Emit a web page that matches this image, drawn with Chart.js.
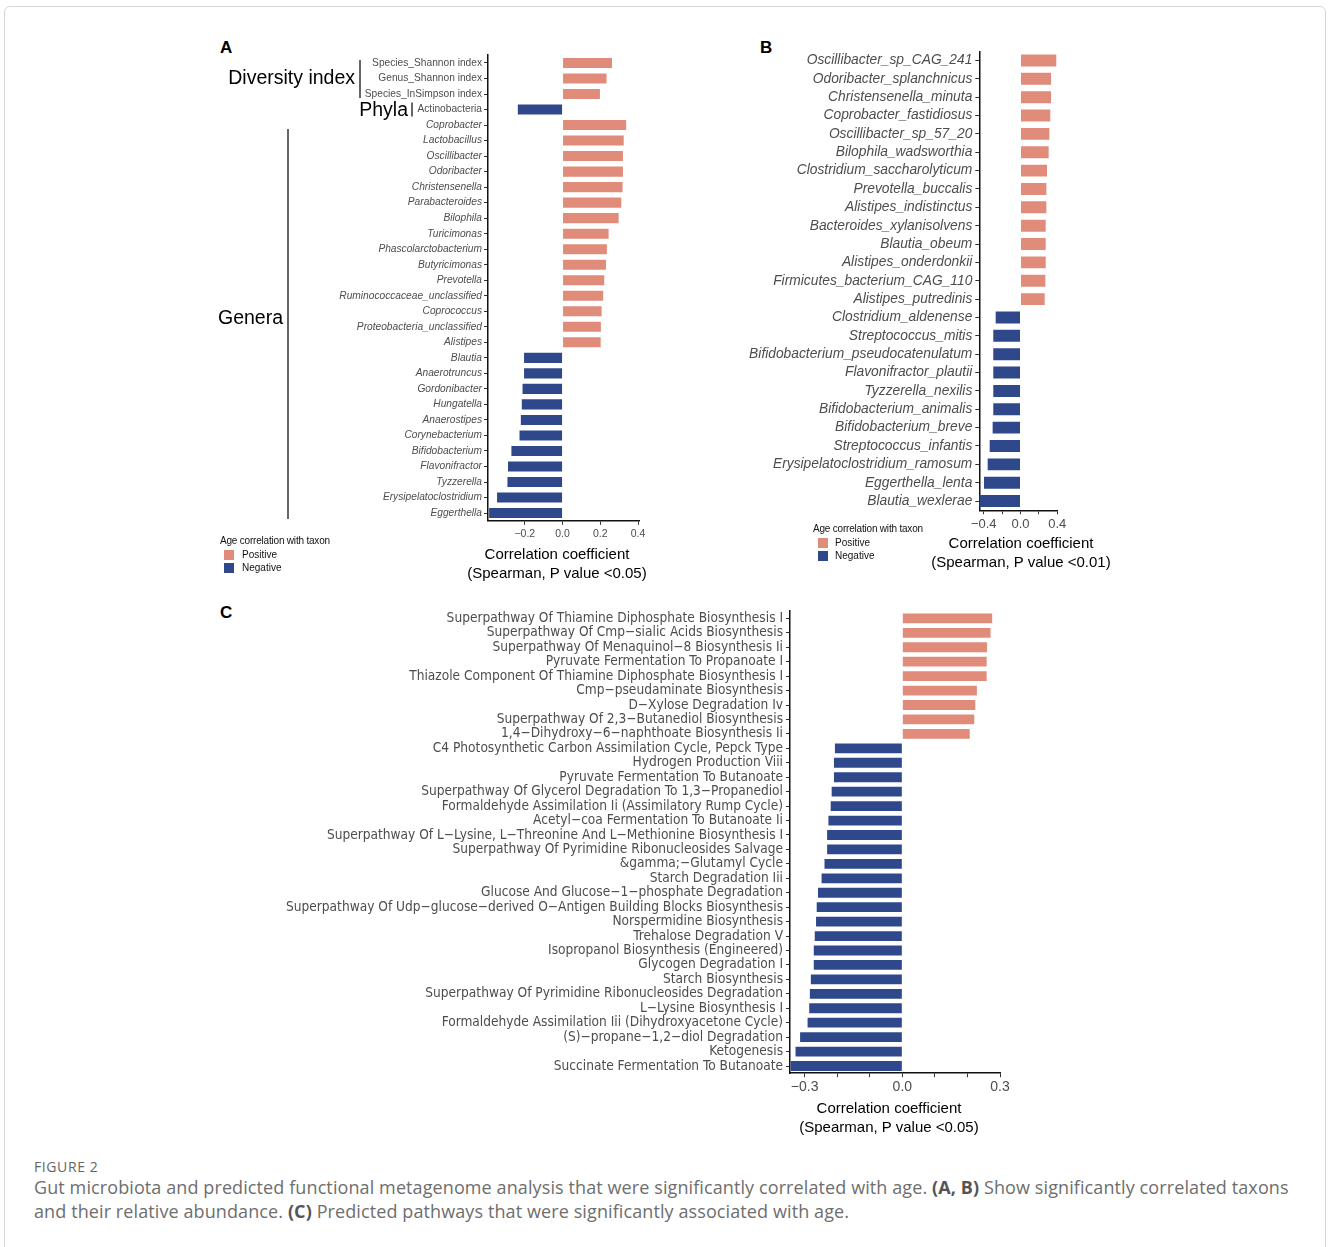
<!DOCTYPE html>
<html>
<head>
<meta charset="utf-8">
<title>Figure 2</title>
<script src="https://cdn.jsdelivr.net/npm/chart.js@4.4.1/dist/chart.umd.min.js"></script>
<style>
  body { margin: 0; background: #fff; width: 1328px; height: 1247px; position: relative; overflow: hidden;
         font-family: "Liberation Sans", Arial, sans-serif; }
  .frame { position: absolute; left: 4px; top: 6px; width: 1320px; height: 1270px; border: 1px solid #d6d6d6; border-radius: 6px; }
  canvas { position: absolute; }
  .letter { position: absolute; font-weight: bold; font-size: 17px; line-height: 18px; color: #000; }
  .lg { position: absolute; font-size: 10px; line-height: 12px; color: #111; white-space: nowrap; }
  .lg.head { letter-spacing: -0.2px; }
  .sw { position: absolute; width: 10px; height: 10px; }
  .xtitle { position: absolute; width: 260px; margin-left: -130px; text-align: center; font-size: 15px; line-height: 19px; color: #000; white-space: nowrap; }
  .cap-title { position: absolute; left: 34px; top: 1157px; font-family: "Open Sans", sans-serif; font-size: 14px; color: #666; letter-spacing: 0.6px; }
  .cap { position: absolute; left: 34px; top: 1175px; width: 1290px; font-family: "Open Sans", sans-serif; font-size: 18px; line-height: 24px; letter-spacing: 0.1px; color: #6e6e6e; white-space: nowrap; }
  .cap b { color: #555; }
</style>
</head>
<body>
<div class="frame"></div>

<div class="letter" style="left:220px; top:39px">A</div>
<div class="letter" style="left:760px; top:39px">B</div>
<div class="letter" style="left:220px; top:604px">C</div>

<canvas id="chartA" width="450" height="545" style="left:210px; top:40px"></canvas>
<canvas id="chartB" width="390" height="540" style="left:740px; top:40px"></canvas>
<canvas id="chartC" width="760" height="540" style="left:280px; top:600px"></canvas>

<!-- axis titles -->
<div class="xtitle" style="left:557px; top:544px">Correlation coefficient<br>(Spearman, P value &lt;0.05)</div>
<div class="xtitle" style="left:1021px; top:533px">Correlation coefficient<br>(Spearman, P value &lt;0.01)</div>
<div class="xtitle" style="left:889px; top:1098px">Correlation coefficient<br>(Spearman, P value &lt;0.05)</div>

<!-- legends -->
<div class="lg head" style="left:220px; top:535px">Age correlation with taxon</div>
<div class="sw" style="left:224px; top:550px; background:#E18B7A"></div>
<div class="lg" style="left:242px; top:549px">Positive</div>
<div class="sw" style="left:224px; top:563px; background:#2F488C"></div>
<div class="lg" style="left:242px; top:562px">Negative</div>

<div class="lg head" style="left:813px; top:523px">Age correlation with taxon</div>
<div class="sw" style="left:818px; top:538px; background:#E18B7A"></div>
<div class="lg" style="left:835px; top:537px">Positive</div>
<div class="sw" style="left:818px; top:551px; background:#2F488C"></div>
<div class="lg" style="left:835px; top:550px">Negative</div>

<div class="cap-title">FIGURE 2</div>
<div class="cap">Gut microbiota and predicted functional metagenome analysis that were significantly correlated with age. <b>(A, B)</b> Show significantly correlated taxons<br>and their relative abundance. <b>(C)</b> Predicted pathways that were significantly associated with age.</div>

<script>
// Panel A: diversity indices, phyla and genera vs age
const taxaA = [
  'Species_Shannon index', 'Genus_Shannon index', 'Species_InSimpson index', 'Actinobacteria',
  'Coprobacter', 'Lactobacillus', 'Oscillibacter', 'Odoribacter', 'Christensenella',
  'Parabacteroides', 'Bilophila', 'Turicimonas', 'Phascolarctobacterium', 'Butyricimonas',
  'Prevotella', 'Ruminococcaceae_unclassified', 'Coprococcus', 'Proteobacteria_unclassified',
  'Alistipes', 'Blautia', 'Anaerotruncus', 'Gordonibacter', 'Hungatella', 'Anaerostipes',
  'Corynebacterium', 'Bifidobacterium', 'Flavonifractor', 'Tyzzerella',
  'Erysipelatoclostridium', 'Eggerthella'
];
const rhoA = [
  0.262, 0.233, 0.198, -0.237,
  0.337, 0.324, 0.320, 0.320, 0.318,
  0.311, 0.297, 0.244, 0.235, 0.230,
  0.221, 0.215, 0.207, 0.203,
  0.202, -0.204, -0.204, -0.212, -0.216, -0.221,
  -0.228, -0.271, -0.289, -0.292,
  -0.347, -0.389
];
const groupsA = [
  { name: 'Diversity index', first: 0, last: 2 },
  { name: 'Phyla', first: 3, last: 3 },
  { name: 'Genera', first: 4, last: 29 }
];
const ticksA = [-0.2, 0, 0.2, 0.4];
const tickLabelsA = [-0.2, 0, 0.2, 0.4];

// Panel B: species vs age
const speciesB = [
  'Oscillibacter_sp_CAG_241', 'Odoribacter_splanchnicus', 'Christensenella_minuta',
  'Coprobacter_fastidiosus', 'Oscillibacter_sp_57_20', 'Bilophila_wadsworthia',
  'Clostridium_saccharolyticum', 'Prevotella_buccalis', 'Alistipes_indistinctus',
  'Bacteroides_xylanisolvens', 'Blautia_obeum', 'Alistipes_onderdonkii',
  'Firmicutes_bacterium_CAG_110', 'Alistipes_putredinis', 'Clostridium_aldenense',
  'Streptococcus_mitis', 'Bifidobacterium_pseudocatenulatum', 'Flavonifractor_plautii',
  'Tyzzerella_nexilis', 'Bifidobacterium_animalis', 'Bifidobacterium_breve',
  'Streptococcus_infantis', 'Erysipelatoclostridium_ramosum', 'Eggerthella_lenta',
  'Blautia_wexlerae'
];
const rhoB = [
  0.389, 0.332, 0.332,
  0.324, 0.314, 0.306,
  0.288, 0.281, 0.281,
  0.274, 0.274, 0.274,
  0.270, 0.263, -0.270,
  -0.296, -0.296, -0.296,
  -0.296, -0.296, -0.303,
  -0.335, -0.357, -0.397,
  -0.448
];
const ticksB = [-0.4, -0.2, 0, 0.2, 0.4];
const tickLabelsB = [-0.4, 0, 0.4];

// Panel C: predicted pathways vs age
const pathwaysC = [
  'Superpathway Of Thiamine Diphosphate Biosynthesis I',
  'Superpathway Of Cmp−sialic Acids Biosynthesis',
  'Superpathway Of Menaquinol−8 Biosynthesis Ii',
  'Pyruvate Fermentation To Propanoate I',
  'Thiazole Component Of Thiamine Diphosphate Biosynthesis I',
  'Cmp−pseudaminate Biosynthesis',
  'D−Xylose Degradation Iv',
  'Superpathway Of 2,3−Butanediol Biosynthesis',
  '1,4−Dihydroxy−6−naphthoate Biosynthesis Ii',
  'C4 Photosynthetic Carbon Assimilation Cycle, Pepck Type',
  'Hydrogen Production Viii',
  'Pyruvate Fermentation To Butanoate',
  'Superpathway Of Glycerol Degradation To 1,3−Propanediol',
  'Formaldehyde Assimilation Ii (Assimilatory Rump Cycle)',
  'Acetyl−coa Fermentation To Butanoate Ii',
  'Superpathway Of L−Lysine, L−Threonine And L−Methionine Biosynthesis I',
  'Superpathway Of Pyrimidine Ribonucleosides Salvage',
  '&gamma;−Glutamyl Cycle',
  'Starch Degradation Iii',
  'Glucose And Glucose−1−phosphate Degradation',
  'Superpathway Of Udp−glucose−derived O−Antigen Building Blocks Biosynthesis',
  'Norspermidine Biosynthesis',
  'Trehalose Degradation V',
  'Isopropanol Biosynthesis (Engineered)',
  'Glycogen Degradation I',
  'Starch Biosynthesis',
  'Superpathway Of Pyrimidine Ribonucleosides Degradation',
  'L−Lysine Biosynthesis I',
  'Formaldehyde Assimilation Iii (Dihydroxyacetone Cycle)',
  '(S)−propane−1,2−diol Degradation',
  'Ketogenesis',
  'Succinate Fermentation To Butanoate'
];
const rhoC = [
  0.276, 0.271, 0.260, 0.259, 0.259, 0.229, 0.224, 0.221, 0.207,
  -0.207, -0.210, -0.210, -0.217, -0.220, -0.227, -0.231, -0.231,
  -0.239, -0.248, -0.259, -0.263, -0.265, -0.269, -0.272, -0.272,
  -0.281, -0.284, -0.286, -0.291, -0.314, -0.328, -0.343
];
const ticksC = [-0.3, -0.2, -0.1, 0, 0.1, 0.2, 0.3];
const tickLabelsC = [-0.3, 0, 0.3];

const POS = '#E18B7A';
const NEG = '#2F488C';
const TEXT = '#4d4d4d';

Chart.defaults.font.family = '"Liberation Sans", Arial, sans-serif';

function fmt(v) {
  const s = Math.abs(v).toFixed(1);
  return v < 0 ? '\u2212' + s : s;
}

// group brackets to the left of panel A's labels
const groupBrackets = {
  id: 'groupBrackets',
  afterDraw(chart) {
    const ctx = chart.ctx;
    const y = chart.scales.y;
    const spots = {
      'Diversity index': { tx: 145, lx: 150, up: 3, down: 4, dy: 0 },
      'Phyla': { tx: 198, lx: 202, up: 7, down: 7, dy: 1 },
      'Genera': { tx: 73, lx: 78, up: -4, down: 6, dy: -5 }
    };
    ctx.save();
    groupsA.forEach(g => {
      const p = spots[g.name];
      const y0 = y.getPixelForTick(g.first) - p.up;
      const y1 = y.getPixelForTick(g.last) + p.down;
      ctx.strokeStyle = '#333';
      ctx.lineWidth = 1.5;
      ctx.beginPath();
      ctx.moveTo(p.lx, y0);
      ctx.lineTo(p.lx, y1);
      ctx.stroke();
      ctx.fillStyle = '#000';
      ctx.font = '19.5px "Liberation Sans", Arial, sans-serif';
      ctx.textAlign = 'right';
      ctx.textBaseline = 'middle';
      ctx.fillText(g.name, p.tx, (y0 + y1) / 2 + p.dy);
    });
    ctx.restore();
  }
};

function panel(id, labels, values, o) {
  return new Chart(document.getElementById(id), {
    type: 'bar',
    data: {
      labels: labels,
      datasets: [{
        data: values,
        backgroundColor: values.map(v => v >= 0 ? POS : NEG),
        barPercentage: o.bar,
        categoryPercentage: 1
      }]
    },
    options: {
      indexAxis: 'y',
      responsive: false,
      animation: false,
      layout: { padding: { top: o.top, right: o.right, left: 0, bottom: 0 } },
      plugins: { legend: { display: false }, tooltip: { enabled: false } },
      scales: {
        y: {
          offset: true,
          grid: { offset: false, drawOnChartArea: false, drawTicks: true, tickLength: 4, tickColor: '#333' },
          border: { color: '#111', width: 1.5 },
          ticks: { autoSkip: false, padding: o.yPad, color: TEXT, font: o.yFont },
          afterFit: s => { s.width = o.yWidth; }
        },
        x: {
          min: o.min,
          max: o.max,
          grid: { drawOnChartArea: false, drawTicks: true, tickLength: 4, tickColor: '#333' },
          border: { color: '#111', width: 1.5 },
          afterBuildTicks: s => { s.ticks = o.ticks.map(v => ({ value: v })); },
          ticks: {
            autoSkip: false, maxRotation: 0, padding: o.xPad, color: TEXT,
            font: { size: o.xSize },
            callback: v => o.tickLabels.includes(v) ? fmt(v) : ''
          },
          afterFit: s => { s.height = o.xHeight; }
        }
      }
    },
    plugins: o.plugins || []
  });
}

panel('chartA', taxaA, rhoA, {
  bar: 0.65, top: 15.2, right: 21, yWidth: 278, xHeight: 64.2, yPad: 2, xPad: 3,
  min: -0.395, max: 0.405, ticks: ticksA, tickLabels: tickLabelsA, xSize: 10.5,
  yFont: ctx => ({ size: 10.2, style: ctx.index < 4 ? 'normal' : 'italic' }),
  plugins: [groupBrackets]
});

panel('chartB', speciesB, rhoB, {
  bar: 0.65, top: 7.75, right: 72.7, yWidth: 239.3, xHeight: 69.75, yPad: 3, xPad: 2,
  min: -0.448, max: 0.4, ticks: ticksB, tickLabels: tickLabelsB, xSize: 13,
  yFont: { size: 13.8, style: 'italic' }
});

panel('chartC', pathwaysC, rhoC, {
  bar: 0.68, top: 9.76, right: 40, yWidth: 510, xHeight: 66.76, yPad: 3, xPad: 2,
  min: -0.345, max: 0.3, ticks: ticksC, tickLabels: tickLabelsC, xSize: 14,
  yFont: { size: 13.6, family: '"Liberation Sans Narrow", "DejaVu Sans Condensed", Arial, sans-serif' }
});
</script>
</body>
</html>
